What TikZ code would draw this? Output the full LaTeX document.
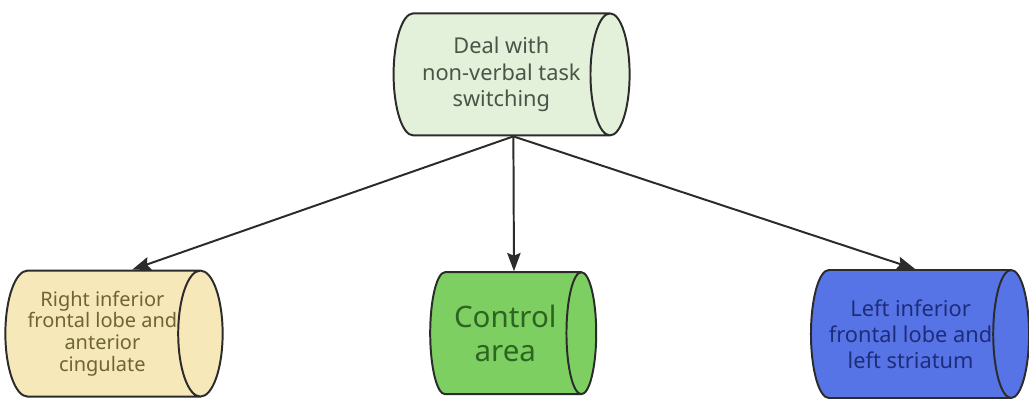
\documentclass[tikz,border=0pt]{standalone}
\usepackage{xcolor}
\usepackage{fontspec}
\setmainfont{Noto Sans}
\usepackage{tikz}
\usetikzlibrary{shapes.geometric,arrows.meta}

\definecolor{topfill}{HTML}{E3F1DA}
\definecolor{topink}{HTML}{4A5548}
\definecolor{yelfill}{HTML}{F7E8B9}
\definecolor{yelink}{HTML}{6E6436}
\definecolor{grnfill}{HTML}{7DCF62}
\definecolor{grnink}{HTML}{2D6422}
\definecolor{blufill}{HTML}{5674E6}
\definecolor{bluink}{HTML}{1E2C7A}
\definecolor{edge}{HTML}{2B2B2B}

\begin{document}
\begin{tikzpicture}[
	can/.style={cylinder, draw=edge, line width=1.4pt, aspect=0.52,
		cylinder uses custom fill, align=center, inner sep=0pt, anchor=shape center},
	link/.style={draw=edge, line width=1.4pt, -{Stealth[length=13pt,width=9.5pt,inset=2pt]}}]
	\useasboundingbox (0,0) rectangle (25.725,-10.025);

	\node[can, minimum height=5.9cm, minimum width=3.05cm,
		cylinder body fill=topfill, cylinder end fill=topfill,
		text=topink, font=\fontsize{15.5}{19}\selectfont] (deal) at (12.79,-1.86)
		{Deal with\\non-verbal task\\switching};

	\node[can, minimum height=5.1cm, minimum width=3.15cm,
		cylinder body fill=yelfill, cylinder end fill=yelfill,
		text=yelink, font=\fontsize{14.2}{15.5}\selectfont] (rifl) at (2.85,-8.34)
		{Right inferior\\frontal lobe and\\anterior\\cingulate};

	\node[can, minimum height=4.15cm, minimum width=3.05cm,
		cylinder body fill=grnfill, cylinder end fill=grnfill,
		text=grnink, font=\fontsize{21}{24.5}\selectfont] (ctrl) at (12.83,-8.33)
		{Control\\area};

	\node[can, minimum height=5.4cm, minimum width=3.2cm,
		cylinder body fill=blufill, cylinder end fill=blufill,
		text=bluink, font=\fontsize{15.5}{18.5}\selectfont] (lifl) at (23.0,-8.35)
		{Left inferior\\frontal lobe and\\left striatum};

	\draw[link] (deal.-79) -- (rifl.65);
	\draw[link] (deal.-79) -- (ctrl.82);
	\draw[link] (deal.-79) -- (lifl.86);
\end{tikzpicture}
\end{document}
